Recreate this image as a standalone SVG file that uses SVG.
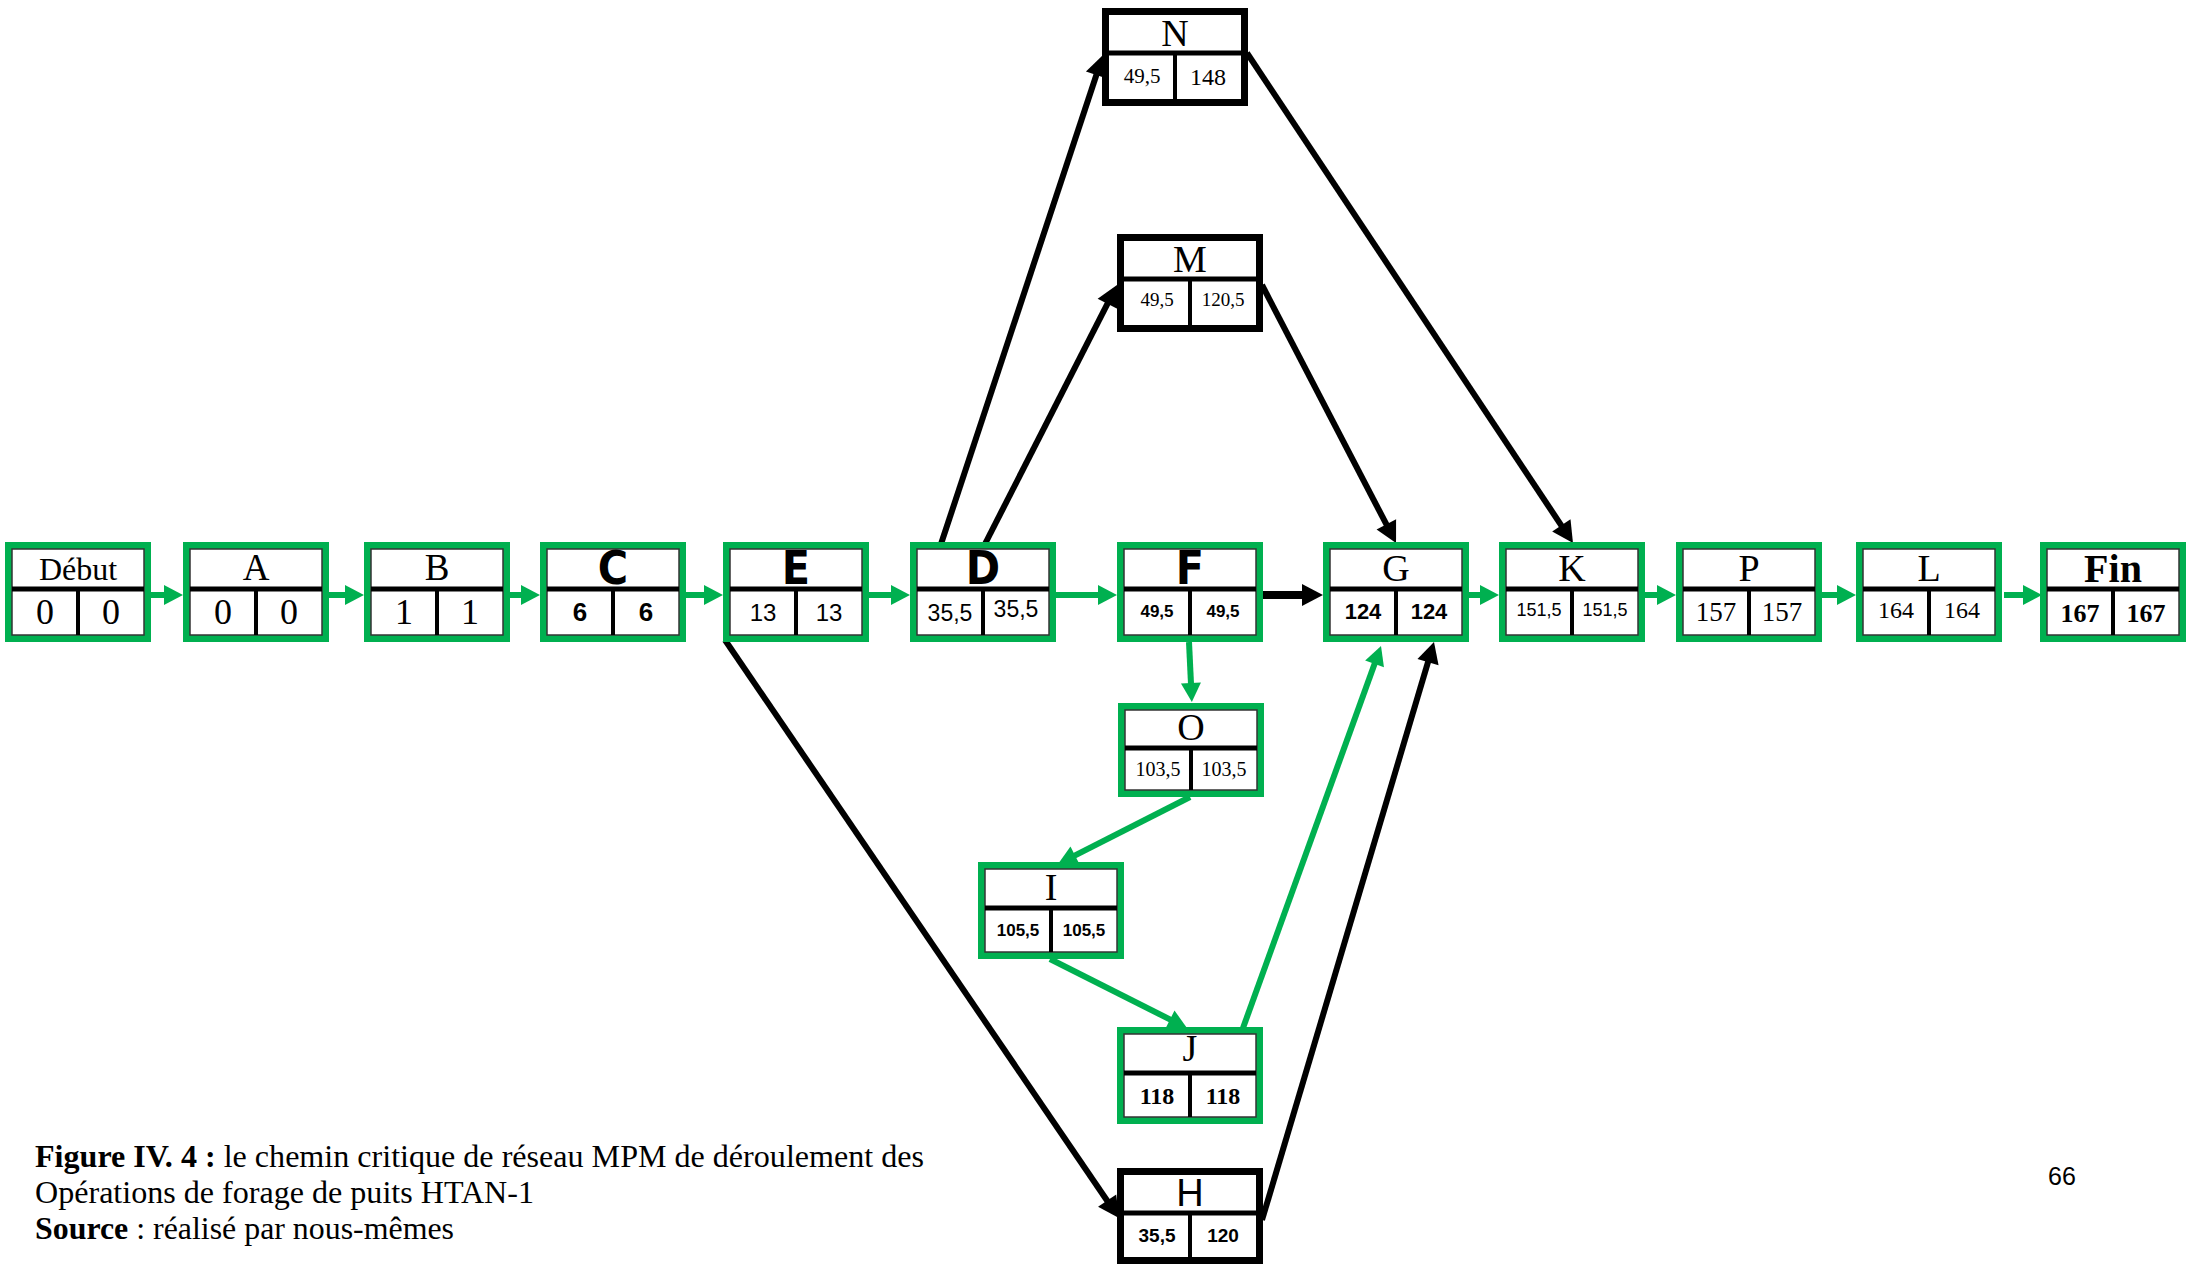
<svg xmlns="http://www.w3.org/2000/svg" width="2186" height="1264" viewBox="0 0 2186 1264">
<style>
.bg{fill:#fff}
.gb{fill:#fff;stroke:#00B050;stroke-width:7}
.kb{fill:#fff;stroke:#000;stroke-width:7}
.in{fill:none;stroke:#333;stroke-width:1.5}
.hd{stroke:#000;stroke-width:5}
.vd{stroke:#000;stroke-width:4}
.se{font-family:"Liberation Serif","Times New Roman",serif;text-anchor:middle;fill:#000}
.sa{font-family:"Liberation Sans",Arial,sans-serif;text-anchor:middle;fill:#000}
.na{font-family:"Liberation Sans Narrow","DejaVu Sans Condensed","Liberation Sans",sans-serif;font-weight:bold;text-anchor:middle;fill:#000}
.gl{stroke:#00B050;stroke-width:6;fill:none}
.kl{stroke:#000;stroke-width:6;fill:none}
.cap{font-family:"Liberation Serif","Times New Roman",serif;font-size:32px;fill:#000}
</style>
<defs>
<marker id="ag" markerUnits="userSpaceOnUse" markerWidth="19" markerHeight="20" viewBox="0 -10 19 20" refX="1" refY="0" orient="auto" overflow="visible"><path d="M0,-10 L19,0 L0,10 z" fill="#00B050"/></marker>
<marker id="ak" markerUnits="userSpaceOnUse" markerWidth="21" markerHeight="22" viewBox="0 -11 21 22" refX="1" refY="0" orient="auto" overflow="visible"><path d="M0,-11 L21,0 L0,11 z" fill="#000"/></marker>
</defs>
<rect class="bg" x="0" y="0" width="2186" height="1264"/>

<g id="connectors">
<line class="gl" x1="150" y1="595" x2="165" y2="595" marker-end="url(#ag)"/>
<line class="gl" x1="328" y1="595" x2="346" y2="595" marker-end="url(#ag)"/>
<line class="gl" x1="508" y1="595" x2="522" y2="595" marker-end="url(#ag)"/>
<line class="gl" x1="685" y1="595" x2="705" y2="595" marker-end="url(#ag)"/>
<line class="gl" x1="867" y1="595" x2="892" y2="595" marker-end="url(#ag)"/>
<line class="gl" x1="1054" y1="595" x2="1099" y2="595" marker-end="url(#ag)"/>
<line class="kl" style="stroke-width:8" x1="1262" y1="595" x2="1303" y2="595" marker-end="url(#ak)"/>
<line class="gl" x1="1468" y1="595" x2="1481" y2="595" marker-end="url(#ag)"/>
<line class="gl" x1="1645" y1="595" x2="1658" y2="595" marker-end="url(#ag)"/>
<line class="gl" x1="1820" y1="595" x2="1838" y2="595" marker-end="url(#ag)"/>
<line class="gl" x1="2004" y1="595" x2="2024" y2="595" marker-end="url(#ag)"/>
<line class="kl" x1="941" y1="544" x2="1096.7" y2="74" marker-end="url(#ak)"/>
<line class="kl" x1="985" y1="544" x2="1107.9" y2="302.8" marker-end="url(#ak)"/>
<line class="kl" x1="1247" y1="53" x2="1561.9" y2="526.3" marker-end="url(#ak)"/>
<line class="kl" x1="1262" y1="285" x2="1386.8" y2="525.2" marker-end="url(#ak)"/>
<line class="kl" x1="725" y1="640" x2="1107.7" y2="1201.5" marker-end="url(#ak)"/>
<line class="kl" x1="1262" y1="1220" x2="1428.3" y2="661.2" marker-end="url(#ak)"/>
<line class="gl" x1="1189" y1="642" x2="1191" y2="684" marker-end="url(#ag)"/>
<line class="gl" x1="1190" y1="797" x2="1074.1" y2="855.9" marker-end="url(#ag)"/>
<line class="gl" x1="1050" y1="959" x2="1170.9" y2="1019.9" marker-end="url(#ag)"/>
<line class="gl" x1="1243" y1="1028" x2="1374.9" y2="662.9" marker-end="url(#ag)"/>
</g>

<g id="node-debut">
<rect class="gb" x="8.5" y="545.5" width="139" height="93"/>
<rect class="in" x="12" y="549" width="132" height="86"/>
<line class="hd" x1="12" y1="589" x2="144" y2="589"/>
<line class="vd" x1="78" y1="589" x2="78" y2="635"/>
<text class="se" x="78" y="580" font-size="32">Début</text>
<text class="se" x="45" y="624" font-size="36">0</text>
<text class="se" x="111" y="624" font-size="36">0</text>
</g>
<g id="node-A">
<rect class="gb" x="186.5" y="545.5" width="139" height="93"/>
<rect class="in" x="190" y="549" width="132" height="86"/>
<line class="hd" x1="190" y1="589" x2="322" y2="589"/>
<line class="vd" x1="256" y1="589" x2="256" y2="635"/>
<text class="se" x="256" y="580" font-size="37">A</text>
<text class="se" x="223" y="624" font-size="36">0</text>
<text class="se" x="289" y="624" font-size="36">0</text>
</g>
<g id="node-B">
<rect class="gb" x="367.5" y="545.5" width="139" height="93"/>
<rect class="in" x="371" y="549" width="132" height="86"/>
<line class="hd" x1="371" y1="589" x2="503" y2="589"/>
<line class="vd" x1="437" y1="589" x2="437" y2="635"/>
<text class="se" x="437" y="580" font-size="37">B</text>
<text class="se" x="404" y="624" font-size="36">1</text>
<text class="se" x="470" y="624" font-size="36">1</text>
</g>
<g id="node-C">
<rect class="gb" x="543.5" y="545.5" width="139" height="93"/>
<rect class="in" x="547" y="549" width="132" height="86"/>
<line class="hd" x1="547" y1="589" x2="679" y2="589"/>
<line class="vd" x1="613" y1="589" x2="613" y2="635"/>
<text class="na" x="613" y="584" font-size="46">C</text>
<text class="sa" x="580" y="621" font-size="26" font-weight="bold">6</text>
<text class="sa" x="646" y="621" font-size="26" font-weight="bold">6</text>
</g>
<g id="node-E">
<rect class="gb" x="726.5" y="545.5" width="139" height="93"/>
<rect class="in" x="730" y="549" width="132" height="86"/>
<line class="hd" x1="730" y1="589" x2="862" y2="589"/>
<line class="vd" x1="796" y1="589" x2="796" y2="635"/>
<text class="na" x="796" y="584" font-size="46">E</text>
<text class="sa" x="763" y="621" font-size="24">13</text>
<text class="sa" x="829" y="621" font-size="24">13</text>
</g>
<g id="node-D">
<rect class="gb" x="913.5" y="545.5" width="139" height="93"/>
<rect class="in" x="917" y="549" width="132" height="86"/>
<line class="hd" x1="917" y1="589" x2="1049" y2="589"/>
<line class="vd" x1="983" y1="589" x2="983" y2="635"/>
<text class="na" x="983" y="584" font-size="46">D</text>
<text class="sa" x="950" y="621" font-size="23">35,5</text>
<text class="sa" x="1016" y="617" font-size="23">35,5</text>
</g>
<g id="node-F">
<rect class="gb" x="1120.5" y="545.5" width="139" height="93"/>
<rect class="in" x="1124" y="549" width="132" height="86"/>
<line class="hd" x1="1124" y1="589" x2="1256" y2="589"/>
<line class="vd" x1="1190" y1="589" x2="1190" y2="635"/>
<text class="na" x="1190" y="584" font-size="46">F</text>
<text class="sa" x="1157" y="617" font-size="17" font-weight="bold">49,5</text>
<text class="sa" x="1223" y="617" font-size="17" font-weight="bold">49,5</text>
</g>
<g id="node-G">
<rect class="gb" x="1326.5" y="545.5" width="139" height="93"/>
<rect class="in" x="1330" y="549" width="132" height="86"/>
<line class="hd" x1="1330" y1="589" x2="1462" y2="589"/>
<line class="vd" x1="1396" y1="589" x2="1396" y2="635"/>
<text class="se" x="1396" y="581" font-size="38">G</text>
<text class="sa" x="1363" y="619" font-size="22" font-weight="bold">124</text>
<text class="sa" x="1429" y="619" font-size="22" font-weight="bold">124</text>
</g>
<g id="node-K">
<rect class="gb" x="1502.5" y="545.5" width="139" height="93"/>
<rect class="in" x="1506" y="549" width="132" height="86"/>
<line class="hd" x1="1506" y1="589" x2="1638" y2="589"/>
<line class="vd" x1="1572" y1="589" x2="1572" y2="635"/>
<text class="se" x="1572" y="581" font-size="38">K</text>
<text class="sa" x="1539" y="616" font-size="18">151,5</text>
<text class="sa" x="1605" y="616" font-size="18">151,5</text>
</g>
<g id="node-P">
<rect class="gb" x="1679.5" y="545.5" width="139" height="93"/>
<rect class="in" x="1683" y="549" width="132" height="86"/>
<line class="hd" x1="1683" y1="589" x2="1815" y2="589"/>
<line class="vd" x1="1749" y1="589" x2="1749" y2="635"/>
<text class="se" x="1749" y="581" font-size="38">P</text>
<text class="se" x="1716" y="621" font-size="27">157</text>
<text class="se" x="1782" y="621" font-size="27">157</text>
</g>
<g id="node-L">
<rect class="gb" x="1859.5" y="545.5" width="139" height="93"/>
<rect class="in" x="1863" y="549" width="132" height="86"/>
<line class="hd" x1="1863" y1="589" x2="1995" y2="589"/>
<line class="vd" x1="1929" y1="589" x2="1929" y2="635"/>
<text class="se" x="1929" y="581" font-size="38">L</text>
<text class="se" x="1896" y="618" font-size="24" fill="#333">164</text>
<text class="se" x="1962" y="618" font-size="24" fill="#333">164</text>
</g>
<g id="node-Fin">
<rect class="gb" x="2043.5" y="545.5" width="139" height="93"/>
<rect class="in" x="2047" y="549" width="132" height="86"/>
<line class="hd" x1="2047" y1="589" x2="2179" y2="589"/>
<line class="vd" x1="2113" y1="589" x2="2113" y2="635"/>
<text class="se" x="2113" y="582" font-size="40" font-weight="bold">Fin</text>
<text class="se" x="2080" y="622" font-size="26" font-weight="bold">167</text>
<text class="se" x="2146" y="622" font-size="26" font-weight="bold">167</text>
</g>

<g id="node-N">
<rect class="kb" x="1105.5" y="11.5" width="139" height="91"/>
<line class="hd" x1="1109" y1="53" x2="1241" y2="53"/>
<line class="vd" x1="1175" y1="53" x2="1175" y2="99"/>
<text class="se" x="1175" y="46" font-size="38">N</text>
<text class="se" x="1142" y="83" font-size="21">49,5</text>
<text class="se" x="1208" y="85" font-size="24">148</text>
</g>
<g id="node-M">
<rect class="kb" x="1120.5" y="237.5" width="139" height="91"/>
<line class="hd" x1="1124" y1="279" x2="1256" y2="279"/>
<line class="vd" x1="1190" y1="279" x2="1190" y2="325"/>
<text class="se" x="1190" y="272" font-size="38">M</text>
<text class="se" x="1157" y="306" font-size="19">49,5</text>
<text class="se" x="1223" y="306" font-size="19">120,5</text>
</g>
<g id="node-O">
<rect class="gb" x="1121.5" y="706.5" width="139" height="87"/>
<rect class="in" x="1125" y="710" width="132" height="80"/>
<line class="hd" x1="1125" y1="748" x2="1257" y2="748"/>
<line class="vd" x1="1191" y1="748" x2="1191" y2="790"/>
<text class="se" x="1191" y="740" font-size="38">O</text>
<text class="se" x="1158" y="776" font-size="20">103,5</text>
<text class="se" x="1224" y="776" font-size="20">103,5</text>
</g>
<g id="node-I">
<rect class="gb" x="981.5" y="865.5" width="139" height="90"/>
<rect class="in" x="985" y="869" width="132" height="83"/>
<line class="hd" x1="985" y1="908" x2="1117" y2="908"/>
<line class="vd" x1="1051" y1="908" x2="1051" y2="952"/>
<text class="se" x="1051" y="900" font-size="38">I</text>
<text class="sa" x="1018" y="936" font-size="17" font-weight="bold">105,5</text>
<text class="sa" x="1084" y="936" font-size="17" font-weight="bold">105,5</text>
</g>
<g id="node-J">
<rect class="gb" x="1120.5" y="1030.5" width="139" height="90"/>
<rect class="in" x="1124" y="1034" width="132" height="83"/>
<line class="hd" x1="1124" y1="1073" x2="1256" y2="1073"/>
<line class="vd" x1="1190" y1="1073" x2="1190" y2="1117"/>
<text class="se" x="1190" y="1061" font-size="38">J</text>
<text class="se" x="1157" y="1104" font-size="24" font-weight="bold">118</text>
<text class="se" x="1223" y="1104" font-size="24" font-weight="bold">118</text>
</g>
<g id="node-H">
<rect class="kb" x="1120.5" y="1171.5" width="139" height="89"/>
<line class="hd" x1="1124" y1="1213" x2="1256" y2="1213"/>
<line class="vd" x1="1190" y1="1213" x2="1190" y2="1257"/>
<text class="sa" x="1190" y="1206" font-size="38">H</text>
<text class="sa" x="1157" y="1242" font-size="19" font-weight="bold">35,5</text>
<text class="sa" x="1223" y="1242" font-size="19" font-weight="bold">120</text>
</g>

<g id="caption">
<text class="cap" x="35" y="1167" textLength="889" lengthAdjust="spacingAndGlyphs"><tspan font-weight="bold">Figure IV. 4 :</tspan> le chemin critique de réseau MPM de déroulement des</text>
<text class="cap" x="35" y="1203" textLength="499" lengthAdjust="spacingAndGlyphs">Opérations de forage de puits HTAN-1</text>
<text class="cap" x="35" y="1239" textLength="419" lengthAdjust="spacingAndGlyphs"><tspan font-weight="bold">Source</tspan> : réalisé par nous-mêmes</text>
</g>
<text x="2048" y="1185" font-family="Liberation Sans, Arial, sans-serif" font-size="25" fill="#000">66</text>
</svg>
